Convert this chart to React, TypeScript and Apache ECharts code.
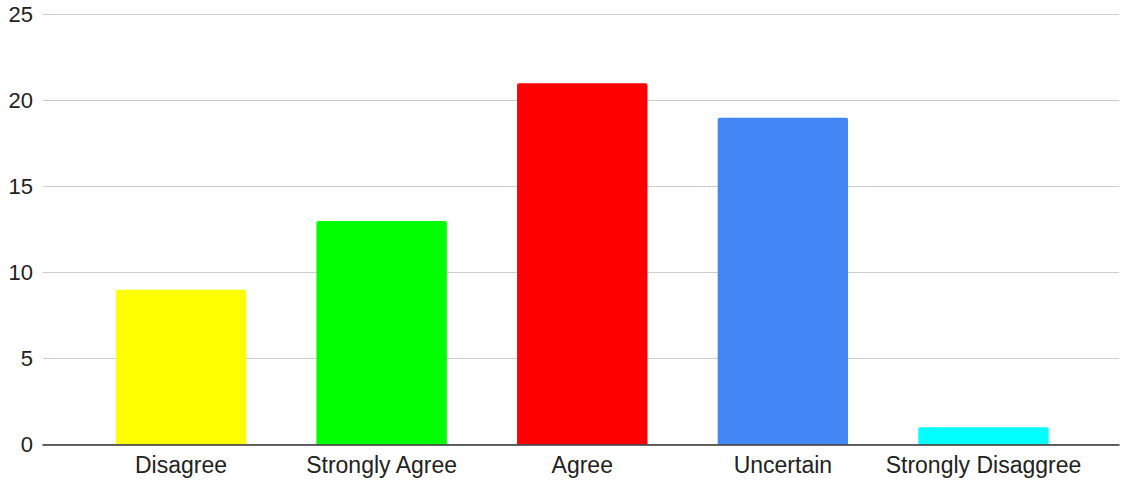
import React, { useEffect, useRef } from "react";
import * as echarts from "echarts";

const categories = ["Disagree", "Strongly Agree", "Agree", "Uncertain", "Strongly Disaggree"];
const values = [9, 13, 21, 19, 1];
const barColors = ["#ffff00", "#00ff00", "#ff0000", "#4285f4", "#00ffff"];
const yMin = 0;
const yMax = 25;
const yStep = 5;

export default function App() {
  const ref = useRef<HTMLDivElement>(null);
  useEffect(() => {
    if (!ref.current) return;
    const chart = echarts.init(ref.current, null, { renderer: "svg" });
    const font = "'Liberation Sans', Arial, sans-serif";
    chart.setOption({
      animation: false,
      backgroundColor: "#ffffff",
      grid: [
        { left: 43, right: 4, top: 14.5, bottom: 38.5, containLabel: false },
        { left: 80.7, right: 39.2, top: 14.5, bottom: 38.5, containLabel: false },
      ],
      xAxis: [
        {
          gridIndex: 0,
          type: "category",
          data: [""],
          axisLine: { show: true, lineStyle: { color: "#333333", width: 1.5 } },
          axisTick: { show: false },
          axisLabel: { show: false },
          splitLine: { show: false },
          z: 5,
        },
        {
          gridIndex: 1,
          type: "category",
          data: categories,
          axisLine: { show: false },
          axisTick: { show: false },
          axisLabel: {
            color: "#222222",
            fontSize: 23,
            fontFamily: font,
            margin: 9,
            interval: 0,
          },
        },
      ],
      yAxis: [
        {
          gridIndex: 0,
          type: "value",
          min: yMin,
          max: yMax,
          interval: yStep,
          axisLine: { show: false },
          axisTick: { show: false },
          axisLabel: { color: "#222222", fontSize: 22, fontFamily: font, margin: 10 },
          splitLine: { show: true, lineStyle: { color: "#cccccc", width: 1.2 } },
        },
        {
          gridIndex: 1,
          type: "value",
          min: yMin,
          max: yMax,
          interval: yStep,
          show: false,
          splitLine: { show: false },
        },
      ],
      series: [
        {
          type: "bar",
          xAxisIndex: 1,
          yAxisIndex: 1,
          barWidth: "65%",
          data: values.map((v, i) => ({
            value: v,
            itemStyle: { color: barColors[i], borderRadius: [2, 2, 0, 0] },
          })),
          z: 2,
        },
      ],
    });
    return () => chart.dispose();
  }, []);
  return <div ref={ref} style={{ width: 1123, height: 483, position: "absolute", left: 0, top: 0 }} />;
}
